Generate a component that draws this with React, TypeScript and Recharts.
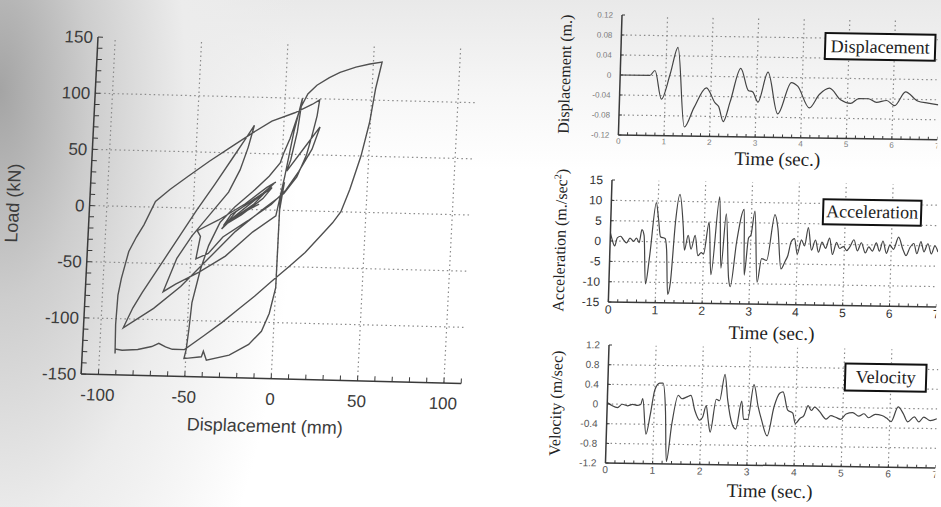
import React from "react";
import { LineChart, Line, XAxis, YAxis, ReferenceLine } from "recharts";

const SANS = "'Liberation Sans', Arial, sans-serif";
const SERIF = "'Liberation Serif', 'Times New Roman', serif";

// Load–displacement loop (mm, kN), points kept in loading order
const loopDisp = [
  0, 2, 0, 0, 0, -3, -7, -14, -25, -38, -40, -41, -51,
  -50, -49, -48, -44, -40, -34, -26, -16, -7, -1, 1, 4, 9, 13, 18, 25, 31, 40, 48, 55,
  53.5, 52, 49.5, 45.5, 40, 35.5, 31, 26, 16, 7, -3, -12, -21, -30, -40, -51, -58, -62, -66, -70, -78, -87, -91, -91,
  -91.5, -91, -89.5, -86, -82, -78, -72, -64, -54, -42, -30, -18, -7, 6, 16, 20,
  19, 17, 14, 9, 2, -10, -25, -40, -55, -70, -87,
  -82, -77, -66, -57, -48, -38, -28, -22, -17,
  -20, -24, -30, -40, -50, -58, -65,
  -58, -45, -30, -15, -2, 2, 6, 10, 8, 5, 3, 12, 21,
  17, 10, 3, -5, -18, -32, -40, -47,
  -45, -47, -35, -20, -8, -3, -10, -25, -33, -28, -15, -5, -12, -28, -32, -22, -10, -5, -15, -27, -30, -20, -12,
];
const loopLoad = [
  0, 25, 5, -30, -69, -92, -108, -120, -130, -135, -127, -132, -134,
  -126, -108, -84, -54, -33, -12, 2, 16, 30, 42, 52, 64, 91, 104, 112, 119, 124, 129, 132, 134,
  122, 110, 80, 50, 20, 0, -10, -19, -37, -50, -64, -77, -89, -101, -113, -126, -126, -124, -121, -124, -127, -128, -127, -131,
  -105, -79, -64, -40, -27, -16, 5, 16, 28, 42, 55, 68, 79, 87, 95, 99,
  85, 70, 50, 30, 15, 0, -20, -45, -70, -90, -108,
  -90, -76, -48, -25, -2, 22, 47, 62, 75,
  55, 35, 15, -5, -25, -45, -75,
  -68, -57, -42, -20, -5, 30, 70, 100, 70, 45, 35, 55, 75,
  55, 35, 18, 5, -10, -25, -40, -45,
  -25, -20, -10, 5, 20, 25, 15, -2, -18, -10, 5, 22, 12, -5, -15, -5, 10, 20, 8, -8, -12, -2, 5,
];
const loopGrid = [-100, -50, 0, 50, 100];

// Displacement time history (s, m)
const dispTime = [
  0, 0.65, 0.76, 0.92, 1.1, 1.25, 1.44, 1.64, 1.9, 2.1, 2.18, 2.29, 2.43, 2.64, 2.82, 2.92, 3.04, 3.24,
  3.48, 3.76, 3.9, 4.17, 4.38, 4.6, 4.85, 5.07, 5.25, 5.46, 5.64, 5.86, 6.04, 6.27, 6.54, 6.77, 7,
];
const dispValue = [
  0, 0, 0.01, -0.047, 0.005, 0.057, -0.102, -0.063, -0.023, -0.053, -0.06, -0.09, -0.05, 0.017, -0.027, -0.03, -0.05, 0.01,
  -0.073, -0.01, -0.017, -0.06, -0.033, -0.02, -0.043, -0.05, -0.04, -0.04, -0.047, -0.043, -0.053, -0.025, -0.043, -0.047, -0.05,
];
const dispTicks = [-0.12, -0.08, -0.04, 0, 0.04, 0.08, 0.12];

// Acceleration time history (s, m/s²)
const accTime = [
  0, 0.04, 0.1, 0.15, 0.22, 0.28, 0.35, 0.42, 0.5, 0.56, 0.62, 0.67, 0.72, 0.78, 0.85, 0.96, 1.02, 1.07, 1.17, 1.21,
  1.26, 1.31, 1.38, 1.46, 1.55, 1.59, 1.66, 1.73, 1.81, 1.88, 1.95, 2.0, 2.1, 2.17, 2.31, 2.38, 2.46, 2.55, 2.59, 2.7,
  2.84, 2.88, 2.95, 3.0, 3.07, 3.16, 3.24, 3.35, 3.5, 3.57, 3.66, 3.75, 3.8, 3.86, 3.93, 4.0, 4.08, 4.15, 4.22, 4.3,
  4.38, 4.45, 4.52, 4.6, 4.68, 4.75, 4.83, 4.9, 4.98, 5.05, 5.12, 5.2, 5.28, 5.36, 5.45, 5.52, 5.6, 5.68, 5.75, 5.82,
  5.9, 5.97, 6.05, 6.15, 6.25, 6.32, 6.4, 6.48, 6.55, 6.63, 6.7, 6.78, 6.86, 6.93, 7.0,
];
const accValue = [
  2, 0.4, -1.2, 0.8, 1.2, 0.4, -0.4, 0.8, 0, 0.8, -0.3, 2.9, 1.5, -10.4, -3.75, 9.6, 5.4, 1.25, 0.8, -2,
  -12.9, -10, 4.6, 11.7, 3.75, -2, 1.7, -1.7, 1.7, -3.3, -2.5, -2.9, 5, -7.9, 11.25, -6.25, 7.1, -8.75, -10.8, 0.4,
  8.3, -7.9, 1.25, 2, 7.9, -9.6, -3.75, -4.2, 7.1, 3.75, -6.25, -4.2, -2.9, 0.4, 1.25, -2.5, 1, -0.5, 4, -1.5,
  1, -2, 0.5, -1, 1.5, -2.5, 0.5, -1, -0.5, -1.5, -0.5, 1.2, -1.5, 0.5, -2, -0.5, -1.5, 0.5, -1.5, 1,
  -2, 0, -1, 2, -1, -2.5, -0.5, 0.5, -2, 1, -1.5, 0.5, -2, 0, -1.5,
];
const accTicks = [-15, -10, -5, 0, 5, 10, 15];

// Velocity time history (s, m/s)
const velTime = [
  0, 0.1, 0.22, 0.32, 0.43, 0.54, 0.64, 0.71, 0.75, 0.84, 0.92, 1.0, 1.1, 1.17, 1.24, 1.29, 1.38, 1.5, 1.58, 1.69,
  1.77, 1.86, 1.97, 2.03, 2.1, 2.15, 2.2, 2.31, 2.38, 2.48, 2.55, 2.66, 2.74, 2.85, 2.9, 2.99, 3.1, 3.2, 3.28, 3.41,
  3.54, 3.65, 3.72, 3.83, 3.94, 4.0, 4.09, 4.18, 4.26, 4.33, 4.4, 4.5, 4.65, 4.75, 4.85, 4.96, 5.07, 5.21, 5.34, 5.45,
  5.55, 5.69, 5.83, 5.93, 6.03, 6.17, 6.28, 6.38, 6.52, 6.62, 6.72, 6.86, 7,
];
const velValue = [
  0.03, -0.03, -0.07, 0, -0.03, 0, -0.02, 0, 0.12, -0.6, -0.2, 0.3, 0.44, 0.44, -0.13, -1.15, -0.4, 0.2, 0.13, 0.17,
  0.2, -0.1, -0.3, -0.24, 0, -0.3, -0.54, 0.13, 0.1, 0.64, 0.13, -0.37, -0.47, 0.1, -0.27, -0.27, 0.44, 0, -0.27, -0.6,
  0, 0.27, 0.3, -0.07, -0.13, -0.34, -0.24, -0.17, 0.03, -0.07, 0, -0.08, -0.24, -0.17, -0.2, -0.24, -0.13, -0.1, -0.17, -0.12,
  -0.2, -0.13, -0.15, -0.2, -0.27, 0.03, -0.1, -0.27, -0.17, -0.27, -0.17, -0.24, -0.2,
];
const velTicks = [-1.2, -0.8, -0.4, 0, 0.4, 0.8, 1.2];

const secTicks = [0, 1, 2, 3, 4, 5, 6, 7];

const range = (a: number, b: number, step: number) => {
  const out: number[] = [];
  for (let v = a; v <= b + 1e-9; v += step) out.push(Math.round(v * 1000) / 1000);
  return out;
};

const frame = { stroke: "#3a3a3a", strokeWidth: 1.5 };
const gridStyle = { stroke: "#8a8a8a", strokeDasharray: "1.5 3", strokeWidth: 1.2 };

function LoopChart() {
  const data = loopDisp.map((x, i) => ({ x, y: loopLoad[i] }));
  const major = (v: number) => (v % 50 === 0 ? String(v) : "");
  return (
    <div
      style={{
        position: "absolute",
        left: 0,
        top: 0,
        width: 490,
        height: 440,
        transformOrigin: "98px 37px",
        transform: "matrix(1, 0.025, -0.05, 1, 0, 0)",
      }}
    >
      <LineChart width={490} height={440} data={data} margin={{ top: 37, right: 12, bottom: 0, left: 0 }}>
        <XAxis
          xAxisId="b"
          type="number"
          dataKey="x"
          domain={[-110, 110]}
          ticks={range(-110, 110, 10)}
          interval={0}
          tickFormatter={major}
          height={66}
          tickSize={-5}
          tickMargin={19}
          axisLine={frame}
          tickLine={{ stroke: "#3a3a3a" }}
          tick={{ fontSize: 17, fill: "#3c3c3c", fontFamily: SANS }}
          allowDataOverflow
        />
        <XAxis
          xAxisId="t"
          orientation="top"
          type="number"
          domain={[-110, 110]}
          ticks={range(-110, 110, 10)}
          interval={0}
          height={0}
          tick={false}
          tickSize={-5}
          axisLine={frame}
          tickLine={{ stroke: "#3a3a3a" }}
          allowDataOverflow
        />
        <YAxis
          yAxisId="l"
          type="number"
          domain={[-150, 150]}
          ticks={range(-150, 150, 10)}
          interval={0}
          tickFormatter={major}
          width={98}
          tickSize={-5}
          tickMargin={10}
          axisLine={frame}
          tickLine={{ stroke: "#3a3a3a" }}
          tick={{ fontSize: 17, fill: "#3c3c3c", fontFamily: SANS }}
          allowDataOverflow
        />
        <YAxis
          yAxisId="r"
          orientation="right"
          type="number"
          domain={[-150, 150]}
          ticks={range(-150, 150, 10)}
          interval={0}
          width={0}
          tick={false}
          tickSize={-5}
          axisLine={frame}
          tickLine={{ stroke: "#3a3a3a" }}
          allowDataOverflow
        />
        {loopGrid.map((v) => (
          <ReferenceLine key={"vx" + v} xAxisId="b" yAxisId="l" x={v} {...gridStyle} />
        ))}
        {loopGrid.map((v) => (
          <ReferenceLine key={"hy" + v} xAxisId="b" yAxisId="l" y={v} {...gridStyle} />
        ))}
        <Line
          xAxisId="b"
          yAxisId="l"
          dataKey="y"
          type="linear"
          stroke="#505050"
          strokeWidth={1.4}
          dot={false}
          isAnimationActive={false}
        />
      </LineChart>
      <div
        style={{
          position: "absolute",
          left: 22,
          top: 205,
          transform: "translate(-50%, -50%) rotate(-90deg)",
          whiteSpace: "nowrap",
          fontFamily: SANS,
          fontSize: 18,
          color: "#3c3c3c",
        }}
      >
        Load (kN)
      </div>
      <div
        style={{
          position: "absolute",
          left: 284,
          top: 422,
          transform: "translate(-50%, -50%)",
          whiteSpace: "nowrap",
          fontFamily: SANS,
          fontSize: 18,
          color: "#3c3c3c",
        }}
      >
        Displacement (mm)
      </div>
    </div>
  );
}

type PanelProps = {
  time: number[];
  values: number[];
  yTicks: number[];
  fmt: (v: number) => string;
  left: number;
  top: number;
  width: number;
  axisW: number;
  plotH: number;
  tickFont: number;
  tickColor: string;
  title: React.ReactNode;
  titleX: number;
  timeGap: number;
  box: string;
  boxX: number;
  boxY: number;
  boxW: number;
  boxH: number;
};

function TimePanel(p: PanelProps) {
  const data = p.time.map((t, i) => ({ t, v: p.values[i] }));
  const lo = p.yTicks[0];
  const hi = p.yTicks[p.yTicks.length - 1];
  const height = 15 + p.plotH + 40;
  const tickStyle = { fontSize: p.tickFont, fill: p.tickColor, fontFamily: SANS };
  const secLabel = (v: number) => (Math.abs(v - Math.round(v)) < 1e-6 ? String(Math.round(v)) : "");
  return (
    <div
      style={{
        position: "absolute",
        left: p.left,
        top: p.top,
        width: p.width,
        height,
        transformOrigin: `${p.axisW}px 15px`,
        transform: "matrix(1, 0.015, -0.03, 1, 0, 0)",
      }}
    >
      <LineChart width={p.width} height={height} data={data} margin={{ top: 15, right: 0, bottom: 0, left: 0 }}>
        <XAxis
          xAxisId="b"
          type="number"
          dataKey="t"
          domain={[0, 7]}
          ticks={range(0, 7, 0.2)}
          interval={0}
          tickFormatter={secLabel}
          height={40}
          tickSize={-3}
          tickMargin={6}
          axisLine={frame}
          tickLine={{ stroke: "#3a3a3a" }}
          tick={tickStyle}
          allowDataOverflow
        />
        <XAxis
          xAxisId="t"
          orientation="top"
          type="number"
          domain={[0, 7]}
          ticks={range(0, 7, 0.2)}
          interval={0}
          height={0}
          tick={false}
          tickSize={-3}
          axisLine={frame}
          tickLine={{ stroke: "#3a3a3a" }}
          allowDataOverflow
        />
        <YAxis
          yAxisId="l"
          type="number"
          domain={[lo, hi]}
          ticks={p.yTicks}
          interval={0}
          tickFormatter={p.fmt}
          width={p.axisW}
          tickSize={-3}
          tickMargin={12}
          axisLine={frame}
          tickLine={{ stroke: "#3a3a3a" }}
          tick={tickStyle}
          allowDataOverflow
        />
        <YAxis
          yAxisId="r"
          orientation="right"
          type="number"
          domain={[lo, hi]}
          ticks={p.yTicks}
          interval={0}
          width={0}
          tick={false}
          tickSize={-3}
          axisLine={frame}
          tickLine={{ stroke: "#3a3a3a" }}
          allowDataOverflow
        />
        {secTicks.slice(1, -1).map((s) => (
          <ReferenceLine key={"s" + s} xAxisId="b" yAxisId="l" x={s} {...gridStyle} />
        ))}
        {p.yTicks.slice(1, -1).map((v) => (
          <ReferenceLine key={"v" + v} xAxisId="b" yAxisId="l" y={v} {...gridStyle} />
        ))}
        <Line
          xAxisId="b"
          yAxisId="l"
          dataKey="v"
          type="monotone"
          stroke="#444"
          strokeWidth={1.2}
          dot={false}
          isAnimationActive={false}
        />
      </LineChart>
      <div
        style={{
          position: "absolute",
          left: p.titleX,
          top: 15 + p.plotH / 2,
          transform: "translate(-50%, -50%) rotate(-90deg)",
          whiteSpace: "nowrap",
          fontFamily: SERIF,
          fontSize: 16,
          color: "#222",
        }}
      >
        {p.title}
      </div>
      <div
        style={{
          position: "absolute",
          left: p.axisW + (p.width - p.axisW) / 2,
          top: 15 + p.plotH + p.timeGap,
          transform: "translate(-50%, -50%)",
          whiteSpace: "nowrap",
          fontFamily: SERIF,
          fontSize: 19,
          color: "#222",
        }}
      >
        Time (sec.)
      </div>
      <div
        style={{
          position: "absolute",
          left: p.boxX,
          top: p.boxY,
          width: p.boxW,
          height: p.boxH,
          boxSizing: "border-box",
          border: "2px solid #111",
          background: "#fff",
          display: "flex",
          alignItems: "center",
          justifyContent: "center",
          fontFamily: SERIF,
          fontSize: 18,
          color: "#222",
        }}
      >
        {p.box}
      </div>
    </div>
  );
}

export default function App() {
  return (
    <div
      style={{
        position: "absolute",
        left: 0,
        top: 0,
        width: 941,
        height: 507,
        overflow: "hidden",
        background:
          "radial-gradient(ellipse 300px 700px at 0px 90px, #a4a4a4 0%, #cdcdcd 30%, #ececec 62%, rgba(255,255,255,0) 100%), linear-gradient(to bottom, #e9e9e9 0px, #f6f6f6 90px, #ffffff 170px)",
      }}
    >
      <LoopChart />
      <TimePanel
        time={dispTime}
        values={dispValue}
        yTicks={dispTicks}
        fmt={(v) => (v === 0 ? "0" : v.toFixed(2))}
        left={540}
        top={0}
        width={401}
        axisW={82}
        plotH={120}
        tickFont={8}
        tickColor="#7a7a7a"
        title="Displacement (m.)"
        titleX={27}
        timeGap={22}
        box="Displacement"
        boxX={285}
        boxY={29}
        boxW={112}
        boxH={28}
      />
      <TimePanel
        time={accTime}
        values={accValue}
        yTicks={accTicks}
        fmt={(v) => String(v)}
        left={540}
        top={165}
        width={400}
        axisW={72}
        plotH={122}
        tickFont={12}
        tickColor="#333"
        title={
          <span>
            Acceleration (m./sec<sup style={{ fontSize: 10 }}>2</sup>)
          </span>
        }
        titleX={22}
        timeGap={29}
        box="Acceleration"
        boxX={283}
        boxY={30}
        boxW={100}
        boxH={27}
      />
      <TimePanel
        time={velTime}
        values={velValue}
        yTicks={velTicks}
        fmt={(v) => (v === 0 ? "0" : v.toFixed(1))}
        left={540}
        top={330}
        width={399}
        axisW={69}
        plotH={118}
        tickFont={10}
        tickColor="#555"
        title="Velocity (m/sec)"
        titleX={18}
        timeGap={26}
        box="Velocity"
        boxX={305}
        boxY={29}
        boxW={83}
        boxH={29}
      />
    </div>
  );
}
